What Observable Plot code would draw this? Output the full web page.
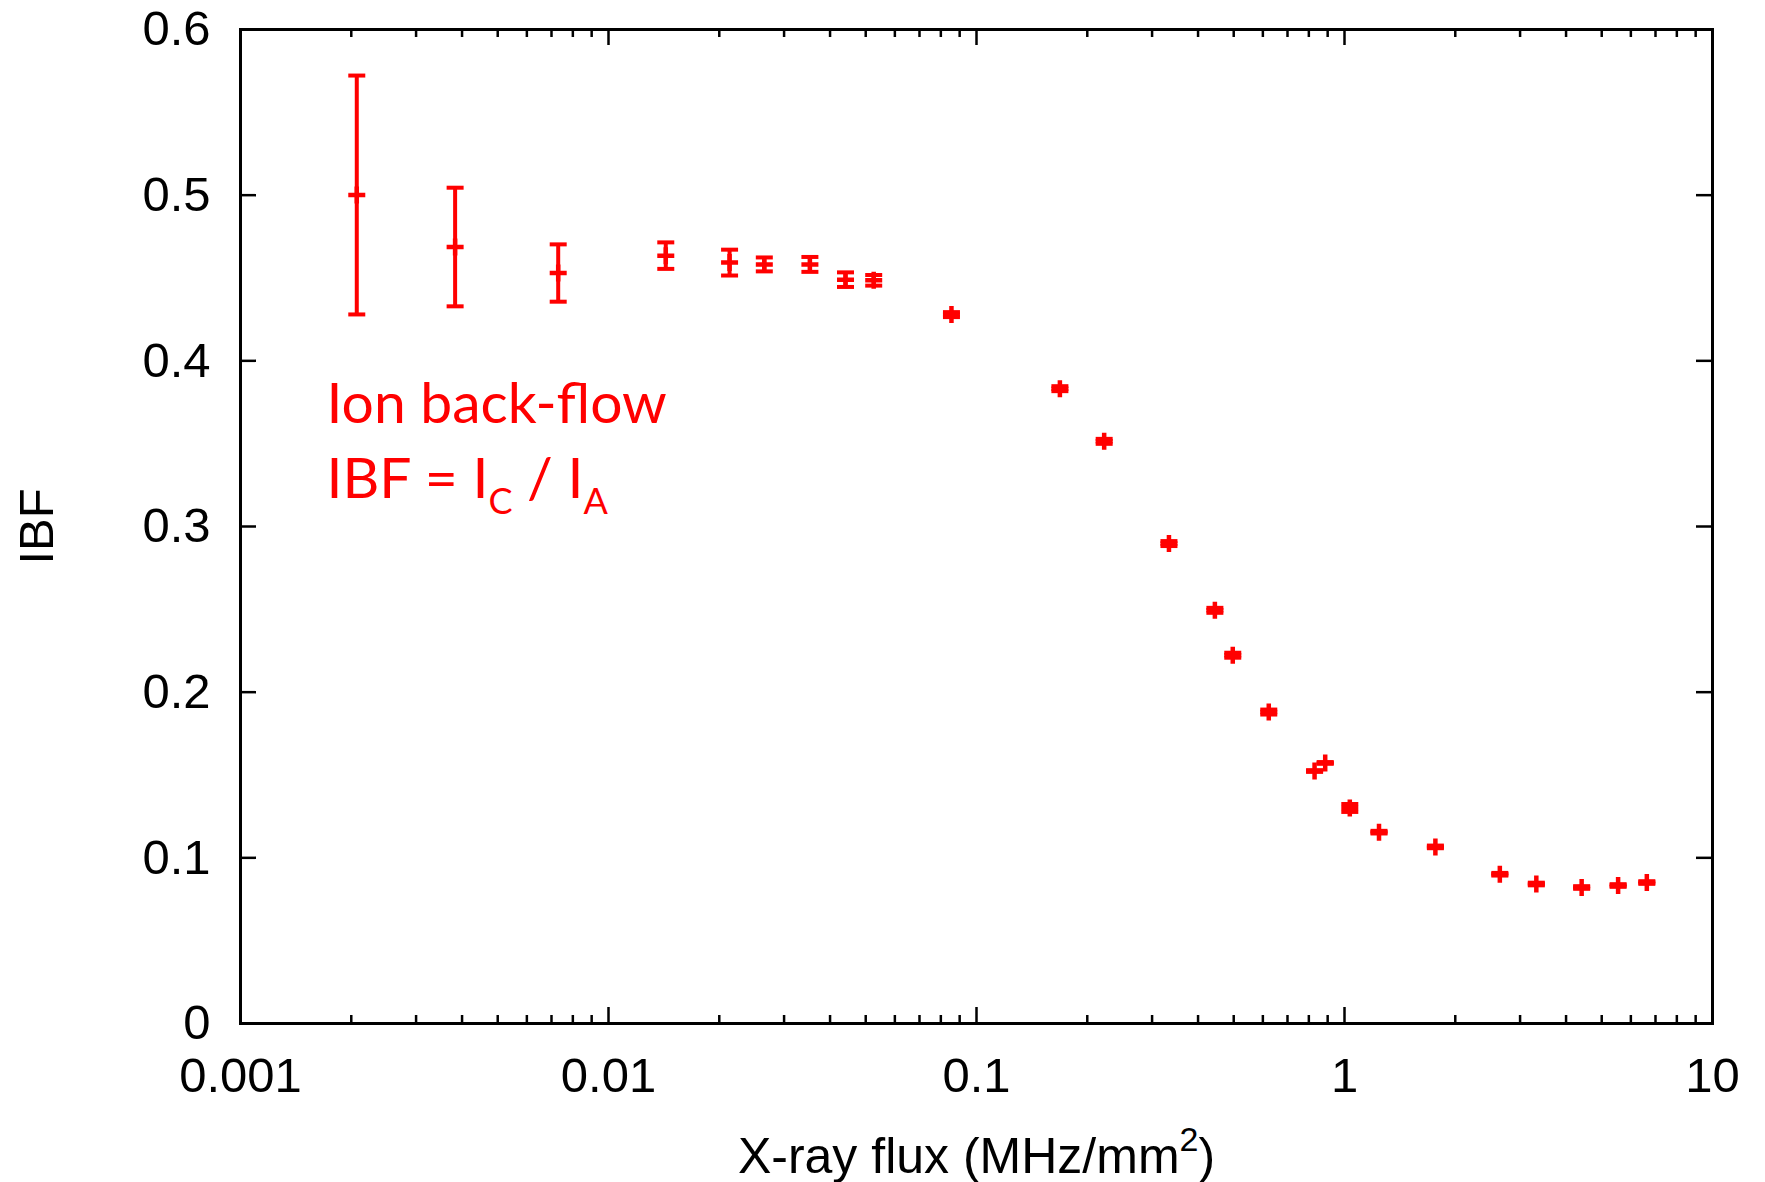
<!DOCTYPE html>
<html>
<head>
<meta charset="utf-8">
<script src="https://cdn.jsdelivr.net/npm/d3@7"></script>
<script src="https://cdn.jsdelivr.net/npm/@observablehq/plot@0.6"></script>
<style>
html, body { margin: 0; padding: 0; background: #fff; overflow: hidden; }
</style>
</head>
<body>
<div id="chart"></div>
<script>
// ---- Data ----
const flux = [0.00207, 0.00383, 0.00730, 0.01431, 0.02133, 0.02651, 0.03526, 0.04406, 0.05256,
  0.0855, 0.1685, 0.2223, 0.3334, 0.4444, 0.4970, 0.6226, 0.8292, 0.8863, 1.0337, 1.241,
  1.766, 2.643, 3.321, 4.41, 5.54, 6.63];
const ibf = [0.5001, 0.4687, 0.4530, 0.4635, 0.4593, 0.4582, 0.4582, 0.4490, 0.4486,
  0.4279, 0.3832, 0.3514, 0.2897, 0.2494, 0.2223, 0.1880, 0.1524, 0.1573, 0.1301, 0.1155,
  0.1066, 0.0901, 0.0842, 0.0821, 0.0833, 0.0851];
const ibfErr = [0.0721, 0.0358, 0.0173, 0.0080, 0.0078, 0.0042, 0.0045, 0.0044, 0.0032,
  0.0015, 0.0015, 0.0015, 0.0015, 0.0015, 0.0015, 0.0015, 0.0005, 0.0005, 0.0024, 0.0008,
  0.0008, 0.0008, 0.0008, 0.0008, 0.0008, 0.0008];

// ---- Axes ----
const xMajorTicks = [0.001, 0.01, 0.1, 1, 10];
const xTickLabels = ["0.001", "0.01", "0.1", "1", "10"];
const xMinorTicks = [0.002, 0.003, 0.004, 0.005, 0.006, 0.007, 0.008, 0.009,
  0.02, 0.03, 0.04, 0.05, 0.06, 0.07, 0.08, 0.09,
  0.2, 0.3, 0.4, 0.5, 0.6, 0.7, 0.8, 0.9,
  2, 3, 4, 5, 6, 7, 8, 9];
const yTicks = [0, 0.1, 0.2, 0.3, 0.4, 0.5, 0.6];
const yTickLabels = ["0", "0.1", "0.2", "0.3", "0.4", "0.5", "0.6"];
const xLabelSegments = ["X-ray flux (MHz/mm", "2", ")"];
const yLabel = "IBF";

// ---- Annotation ----
const noteLine1 = "Ion back-flow";
const noteLine2Segments = ["IBF = I", "C", " / I", "A"];
const noteX = 0.001713;
const noteY = [0.3627, 0.3171];

// ---- Layout ----
const W = 1765, H = 1182;
const mL = 240, mR = 53, mT = 29, mB = 159;
const fw = W - mL - mR, fh = H - mT - mB;
const RED = "#ff0000";
const majorLen = 16, minorLen = 8;

const points = flux.map((x, i) => ({x, y: ibf[i], lo: ibf[i] - ibfErr[i], hi: ibf[i] + ibfErr[i]}));

const capSymbol = {
  draw(ctx, size) {
    const r = Math.sqrt(size / Math.PI);
    ctx.moveTo(-r, 0);
    ctx.lineTo(r, 0);
  }
};
const plusSymbol = {
  draw(ctx, size) {
    const r = Math.sqrt(size / Math.PI);
    ctx.moveTo(-r, 0);
    ctx.lineTo(r, 0);
    ctx.moveTo(0, -r);
    ctx.lineTo(0, r);
  }
};

const xLabelPlain = xLabelSegments.join("");
const note2Plain = noteLine2Segments.join("");

const plot = Plot.plot({
  width: W,
  height: H,
  marginLeft: mL,
  marginRight: mR,
  marginTop: mT,
  marginBottom: mB,
  style: {background: "white", fontFamily: "'Liberation Sans', Arial, sans-serif", fontSize: "49px", color: "black"},
  x: {type: "log", domain: [0.001, 10]},
  y: {domain: [0, 0.6]},
  marks: [
    // inward ticks: y left/right
    Plot.ruleY(yTicks, {y: d => d, insetRight: fw - majorLen, stroke: "black", strokeWidth: 2.5}),
    Plot.ruleY(yTicks, {y: d => d, insetLeft: fw - majorLen, stroke: "black", strokeWidth: 2.5}),
    // x bottom/top majors
    Plot.ruleX(xMajorTicks, {x: d => d, insetTop: fh - majorLen, stroke: "black", strokeWidth: 2.5}),
    Plot.ruleX(xMajorTicks, {x: d => d, insetBottom: fh - majorLen, stroke: "black", strokeWidth: 2.5}),
    // x bottom/top minors
    Plot.ruleX(xMinorTicks, {x: d => d, insetTop: fh - minorLen, stroke: "black", strokeWidth: 2.5}),
    Plot.ruleX(xMinorTicks, {x: d => d, insetBottom: fh - minorLen, stroke: "black", strokeWidth: 2.5}),
    Plot.frame({stroke: "black", strokeWidth: 3}),
    Plot.axisX(xMajorTicks, {tickSize: 0, tickPadding: 34, label: null,
      tickFormat: d => xTickLabels[xMajorTicks.indexOf(d)]}),
    Plot.axisY(yTicks, {tickSize: 0, tickPadding: 30, label: null,
      tickFormat: d => yTickLabels[yTicks.indexOf(d)]}),
    // axis titles
    Plot.text([xLabelPlain], {frameAnchor: "bottom", text: d => d, lineAnchor: "bottom", dy: 149, fontSize: 50}),
    Plot.text([yLabel], {frameAnchor: "left", text: d => d, rotate: -90, textAnchor: "middle", lineAnchor: "bottom", dx: -188, fontSize: 49}),
    // error bars
    Plot.ruleX(points, {x: "x", y1: "lo", y2: "hi", stroke: RED, strokeWidth: 4}),
    Plot.dot(points, {x: "x", y: "hi", symbol: capSymbol, r: 8.5, stroke: RED, fill: "none", strokeWidth: 4}),
    Plot.dot(points, {x: "x", y: "lo", symbol: capSymbol, r: 8.5, stroke: RED, fill: "none", strokeWidth: 4}),
    // markers
    Plot.dot(points, {x: "x", y: "y", symbol: plusSymbol, r: 8.5, stroke: RED, fill: "none", strokeWidth: 4.5}),
    // annotation
    Plot.text([noteLine1], {x: () => noteX, y: () => noteY[0], text: d => d, textAnchor: "start", lineAnchor: "bottom",
      fill: RED, fontSize: 57, fontFamily: "Lato, 'Open Sans', sans-serif"}),
    Plot.text([note2Plain], {x: () => noteX, y: () => noteY[1], text: d => d, textAnchor: "start", lineAnchor: "bottom",
      fill: RED, fontSize: 57, fontFamily: "Lato, 'Open Sans', sans-serif"})
  ]
});

function richText(svg, plain, segments, kinds, smallSize, shiftAmt) {
  const NS = "http://www.w3.org/2000/svg";
  for (const t of svg.querySelectorAll("text")) {
    if (t.textContent === plain) {
      while (t.firstChild) t.removeChild(t.firstChild);
      let cur = 0;
      segments.forEach((s, i) => {
        const ts = document.createElementNS(NS, "tspan");
        const k = kinds[i];
        const target = k === "sub" ? shiftAmt : k === "sup" ? -shiftAmt : 0;
        if (target !== cur) ts.setAttribute("dy", target - cur);
        cur = target;
        if (k !== "base") ts.setAttribute("font-size", smallSize);
        ts.textContent = s;
        t.appendChild(ts);
      });
    }
  }
}

richText(plot, xLabelPlain, xLabelSegments, ["base", "sup", "base"], 34, 22);
richText(plot, note2Plain, noteLine2Segments, ["base", "sub", "base", "sub"], 36, 16);

document.getElementById("chart").appendChild(plot);
</script>
</body>
</html>
